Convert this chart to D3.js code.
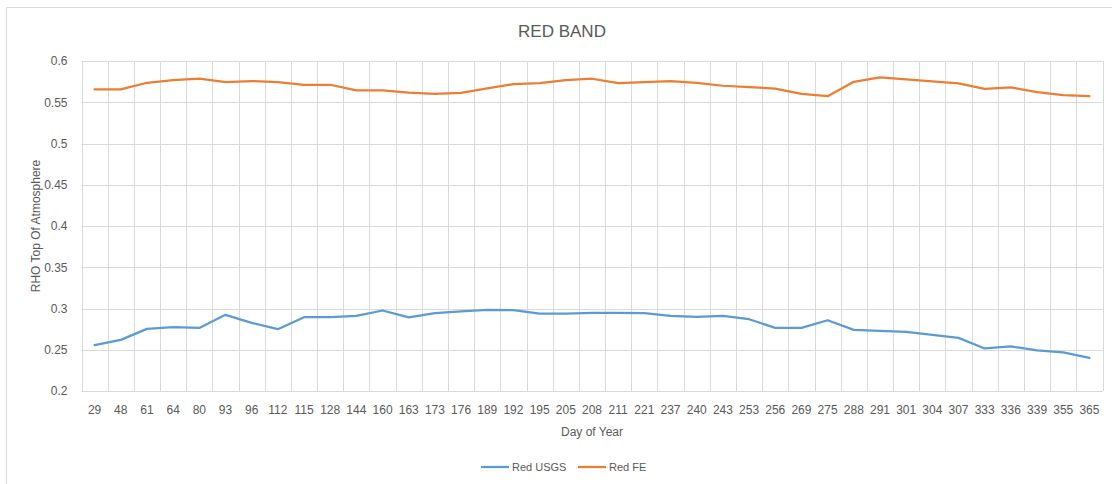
<!DOCTYPE html>
<html>
<head>
<meta charset="utf-8">
<script src="https://cdn.jsdelivr.net/npm/d3@7"></script>
<style>
  html, body { margin: 0; padding: 0; background: #fff; }
  svg text { font-family: "Liberation Sans", Arial, sans-serif; fill: #595959; }
</style>
</head>
<body>
<svg id="chart" width="1112" height="484"></svg>
<script>
// Day-of-year categories
const days = ["29","48","61","64","80","93","96","112","115","128","144","160","163","173","176","189","192","195","205","208","211","221","237","240","243","253","256","269","275","288","291","301","304","307","333","336","339","355","365"];

// Red band top-of-atmosphere reflectance
const redUSGS = [0.2556,0.2620,0.2753,0.2774,0.2765,0.2923,0.2826,0.2749,0.2895,0.2895,0.2910,0.2976,0.2893,0.2943,0.2964,0.2983,0.2980,0.2939,0.2939,0.2947,0.2947,0.2943,0.2910,0.2898,0.2910,0.2870,0.2765,0.2765,0.2858,0.2741,0.2729,0.2717,0.2680,0.2644,0.2516,0.2540,0.2492,0.2467,0.2402];
const redFE   = [0.5656,0.5656,0.5736,0.5769,0.5785,0.5745,0.5757,0.5745,0.5712,0.5712,0.5644,0.5644,0.5617,0.5602,0.5614,0.5668,0.5720,0.5732,0.5769,0.5785,0.5732,0.5745,0.5757,0.5736,0.5700,0.5684,0.5666,0.5602,0.5574,0.5748,0.5802,0.5777,0.5753,0.5729,0.5663,0.5680,0.5623,0.5586,0.5574];

// Y axis ticks
const yTicks = [0.2,0.25,0.3,0.35,0.4,0.45,0.5,0.55,0.6];

const series = [
  { name: "Red USGS", values: redUSGS, color: "#5B9BD5" },
  { name: "Red FE",   values: redFE,   color: "#ED7D31" }
];

const svg = d3.select("#chart");
const plot = { left: 81.5, right: 1102.5, top: 61, bottom: 391 };

// Outer chart frame
svg.append("rect")
  .attr("x", 6.5).attr("y", 7.5)
  .attr("width", 1120).attr("height", 500)
  .attr("fill", "none").attr("stroke", "#D9D9D9").attr("stroke-width", 1);

const x = d3.scaleBand().domain(days).range([plot.left, plot.right]).padding(0);
const y = d3.scaleLinear().domain([0.2, 0.6]).range([plot.bottom, plot.top]);

const grid = svg.append("g");
// horizontal gridlines
grid.selectAll("line.h").data(yTicks).join("line")
  .attr("x1", plot.left).attr("x2", plot.right)
  .attr("y1", d => Math.round(y(d)) + 0.5).attr("y2", d => Math.round(y(d)) + 0.5)
  .attr("stroke", "#D9D9D9").attr("stroke-width", 1);
// vertical gridlines at category boundaries
const bounds = days.map(d => x(d)).concat([plot.right]);
grid.selectAll("line.v").data(bounds).join("line")
  .attr("x1", d => Math.round(d) + 0.5).attr("x2", d => Math.round(d) + 0.5)
  .attr("y1", plot.top).attr("y2", plot.bottom)
  .attr("stroke", "#D9D9D9").attr("stroke-width", 1);

// Y axis labels
const yAxis = d3.axisLeft(y).tickValues(yTicks).tickSize(0).tickPadding(14)
  .tickFormat(d => d3.format("")(+d.toFixed(2)));
svg.append("g").attr("transform", `translate(${plot.left},0)`).call(yAxis)
  .call(g => g.select(".domain").remove())
  .call(g => g.selectAll("text").style("font-size", "12px").attr("fill", "#595959"));

// X axis labels
const xAxis = d3.axisBottom(x).tickSize(0).tickPadding(14);
svg.append("g").attr("transform", `translate(0,${plot.bottom})`).call(xAxis)
  .call(g => g.select(".domain").attr("stroke", "#D9D9D9"))
  .call(g => g.selectAll("text").style("font-size", "12px").attr("fill", "#595959"));

// Lines
const line = d3.line()
  .x((d, i) => x(days[i]) + x.bandwidth() / 2)
  .y(d => y(d));
series.forEach(s => {
  svg.append("path").datum(s.values)
    .attr("d", line)
    .attr("fill", "none")
    .attr("stroke", s.color)
    .attr("stroke-width", 2.25)
    .attr("stroke-linejoin", "round")
    .attr("stroke-linecap", "round");
});

// Title
svg.append("text").attr("x", 562).attr("y", 37)
  .attr("text-anchor", "middle").style("font-size", "17px").text("RED BAND");

// Axis titles
svg.append("text")
  .attr("transform", `translate(40,${(plot.top + plot.bottom) / 2}) rotate(-90)`)
  .attr("text-anchor", "middle").style("font-size", "12px").text("RHO Top Of Atmosphere");
svg.append("text").attr("x", (plot.left + plot.right) / 2).attr("y", 436)
  .attr("text-anchor", "middle").style("font-size", "12px").text("Day of Year");

// Legend
const legendItems = [
  { s: series[0], x: 481 },
  { s: series[1], x: 578 }
];
legendItems.forEach(item => {
  svg.append("line")
    .attr("x1", item.x).attr("x2", item.x + 28)
    .attr("y1", 467).attr("y2", 467)
    .attr("stroke", item.s.color).attr("stroke-width", 2.25);
  svg.append("text").attr("x", item.x + 31).attr("y", 471)
    .style("font-size", "11px").text(item.s.name);
});
</script>
</body>
</html>
